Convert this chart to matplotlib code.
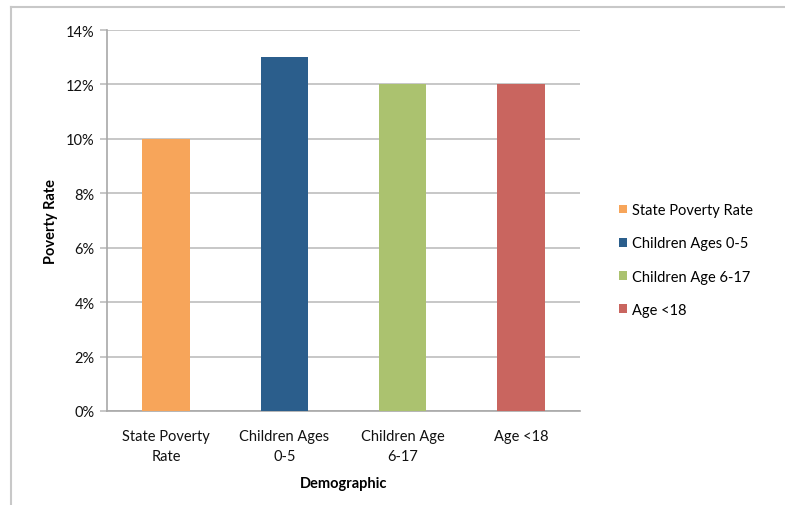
import matplotlib
matplotlib.use("Agg")
import matplotlib.pyplot as plt
from matplotlib.patches import Patch
from matplotlib.ticker import FuncFormatter, MultipleLocator
from matplotlib.lines import Line2D

categories = ["State Poverty\nRate", "Children Ages\n0-5", "Children Age\n6-17", "Age <18"]
legend_labels = ["State Poverty Rate", "Children Ages 0-5", "Children Age 6-17", "Age <18"]
values = [10, 13, 12, 12]
colors = ["#F7A55A", "#2B5E8C", "#ABC26F", "#C9655F"]

plt.rcParams['font.family'] = ['Lato', 'DejaVu Sans']
FS = 10.5

W, H = 785, 506
fig = plt.figure(figsize=(W / 100, H / 100), dpi=100)
ax = fig.add_axes([107 / W, 1 - 412 / H, (580 - 107) / W, (412 - 31) / H])

x = list(range(len(values)))
ax.bar(x, values, width=0.40, color=colors, zorder=3)
ax.set_xlim(-0.5, len(values) - 0.5)
ax.set_ylim(0, 14)
ax.yaxis.set_major_locator(MultipleLocator(2))
ax.yaxis.set_major_formatter(FuncFormatter(lambda v, p: f"{int(v)}%"))
ax.grid(axis='y', color='#BEBEBE', linewidth=1.2, zorder=0)
ax.set_xticks(x)
ax.set_xticklabels(categories, fontsize=FS, color='#111111', linespacing=1.55)
ax.tick_params(axis='x', length=0, pad=13)
ax.tick_params(axis='y', length=5, color='#BEBEBE', width=1.2, labelsize=FS,
               labelcolor='#111111', pad=4)
for s in ['top', 'right']:
    ax.spines[s].set_visible(False)
ax.spines['left'].set_color('#A8A8A8')
ax.spines['bottom'].set_color('#A8A8A8')
ax.spines['left'].set_linewidth(1.2)
ax.spines['bottom'].set_linewidth(1.2)

ax.set_xlabel("Demographic", fontsize=FS, fontweight='bold', labelpad=9)
ax.set_ylabel("Poverty Rate", fontsize=FS, fontweight='bold', labelpad=6)

handles = [Patch(facecolor=c, edgecolor='none') for c in colors]
fig.legend(handles, legend_labels, loc='center left',
           bbox_to_anchor=(606 / W, 1 - 261 / H), frameon=False,
           fontsize=FS, handlelength=0.55, handleheight=0.55,
           handletextpad=0.3, labelspacing=1.32)

# outer border (left and top visible)
fig.add_artist(Line2D([11 / W, 11 / W], [0, 1 - 8 / H], transform=fig.transFigure,
                      color='#C8C8C8', linewidth=1.5))
fig.add_artist(Line2D([11 / W, 1], [1 - 8 / H, 1 - 8 / H], transform=fig.transFigure,
                      color='#C8C8C8', linewidth=1.5))

fig.savefig("out.png", dpi=100)
